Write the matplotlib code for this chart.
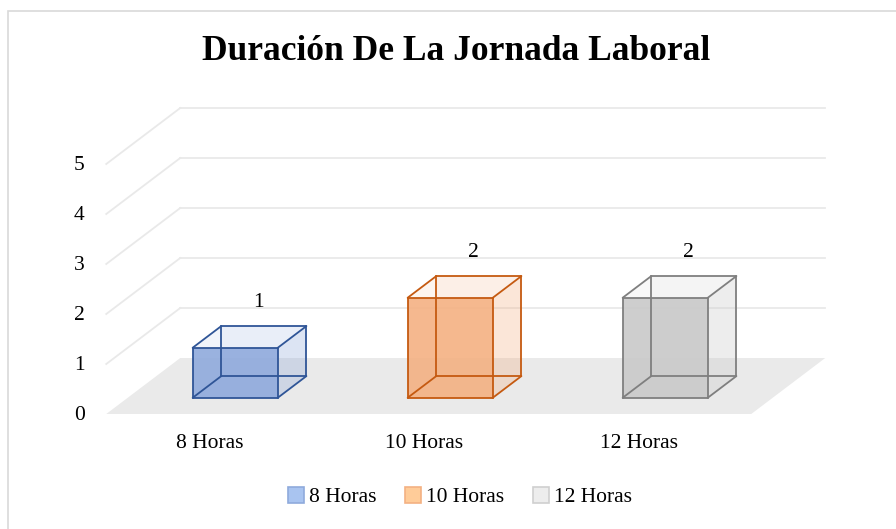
import matplotlib.pyplot as plt
from matplotlib.patches import Polygon, Patch, Rectangle

plt.rcParams['font.family'] = ['Liberation Serif', 'DejaVu Serif']

categories = ['8 Horas', '10 Horas', '12 Horas']
values = [1, 2, 2]
y_ticks = [0, 1, 2, 3, 4, 5]
title = 'Duración De La Jornada Laboral'

face_colors = ['#8FAADC', '#F4B183', '#C9C9C9']
edge_colors = ['#2F5597', '#C55A11', '#7F7F7F']
legend_faces = ['#A9C4F0', '#FFCC99', '#EDEDED']
legend_edges = ['#8FAADC', '#F4B183', '#D0D0D0']

# oblique projection: depth 0 = front, 1 = back wall
DX = 74 / 215
DY = 56 / 50
BAR_HALF = 0.198
D_FRONT, D_BACK = 0.29, 0.677
GRID = '#E9E9E9'


def proj(x, v, d):
    return (x + d * DX, v + d * DY)


fig = plt.figure(figsize=(8.96, 5.29), dpi=100)
ax = fig.add_axes([0, 0, 1, 1])
ax.set_xlim((0 - 213.75) / 215, (896 - 213.75) / 215)
ax.set_ylim((414 - 529) / 50, 414 / 50)
ax.axis('off')

# chart border (only top/left fall inside the picture)
fig.patches.append(Rectangle((8 / 896, -0.05), 1.2, 1 - 11 / 529 + 0.05,
                             transform=fig.transFigure, fill=False,
                             edgecolor='#D9D9D9', linewidth=1.2))

x0, x1 = -0.5, len(categories) - 0.5

# floor
floor = [proj(x0, 0, 0), proj(x1, 0, 0), proj(x1, 0, 1), proj(x0, 0, 1)]
ax.add_patch(Polygon(floor, closed=True, facecolor='#EAEAEA', edgecolor='none', zorder=1))

# back wall and side wall gridlines
for v in y_ticks[1:]:
    bx0, by = proj(x0, v, 1)
    bx1, _ = proj(x1, v, 1)
    fx, fy = proj(x0, v, 0)
    ax.plot([bx0, bx1], [by, by], color=GRID, lw=1.3, zorder=1)
    ax.plot([fx, bx0], [fy, by], color=GRID, lw=1.3, zorder=1)

# tick labels
for v in y_ticks:
    ax.text(x0 - 0.1, v - 0.03, str(v), ha='right', va='center', fontsize=15.5)

for i, cat in enumerate(categories):
    ax.text(i - 0.02, -0.6, cat, ha='center', va='center', fontsize=15.5)


def box(i, v, fc, ec):
    xl, xr = i - BAR_HALF, i + BAR_HALF
    c = {}
    for name, (xx, vv, dd) in {
        'flb': (xl, 0, D_FRONT), 'frb': (xr, 0, D_FRONT),
        'flt': (xl, v, D_FRONT), 'frt': (xr, v, D_FRONT),
        'blb': (xl, 0, D_BACK), 'brb': (xr, 0, D_BACK),
        'blt': (xl, v, D_BACK), 'brt': (xr, v, D_BACK),
    }.items():
        c[name] = proj(xx, vv, dd)
    faces = [
        (['blb', 'brb', 'brt', 'blt'], 0.08),
        (['flb', 'frb', 'brb', 'blb'], 0.08),
        (['frb', 'brb', 'brt', 'frt'], 0.25),
        (['flt', 'frt', 'brt', 'blt'], 0.12),
        (['flb', 'frb', 'frt', 'flt'], 0.9),
    ]
    for keys, a in faces:
        ax.add_patch(Polygon([c[k] for k in keys], closed=True, facecolor=fc,
                             alpha=a, edgecolor='none', zorder=3))
    edges = [('flb', 'frb'), ('frb', 'frt'), ('frt', 'flt'), ('flt', 'flb'),
             ('blb', 'brb'), ('brb', 'brt'), ('brt', 'blt'), ('blt', 'blb'),
             ('flb', 'blb'), ('frb', 'brb'), ('frt', 'brt'), ('flt', 'blt')]
    for a, b in edges:
        ax.plot([c[a][0], c[b][0]], [c[a][1], c[b][1]], color=ec, lw=1.3,
                solid_capstyle='round', zorder=4)


for i, v in enumerate(values):
    box(i, v, face_colors[i], edge_colors[i])
    lx, ly = proj(i, v, 0.6)
    ax.text(lx, ly + 0.55, str(v), ha='center', va='center', fontsize=15.5)

fig.text(456 / 896, 1 - 51 / 529, title, ha='center', va='center',
         fontsize=25.5, fontweight='bold')

handles = [Patch(facecolor=legend_faces[i], edgecolor=legend_edges[i], linewidth=1.2)
           for i in range(len(categories))]
fig.legend(handles, categories, loc='center', bbox_to_anchor=(460 / 896, 1 - 497 / 529),
           ncol=3, frameon=False, fontsize=15.5, handlelength=0.75, handleheight=0.75,
           handletextpad=0.25, columnspacing=1.3)

fig.savefig('out.png', dpi=100)
